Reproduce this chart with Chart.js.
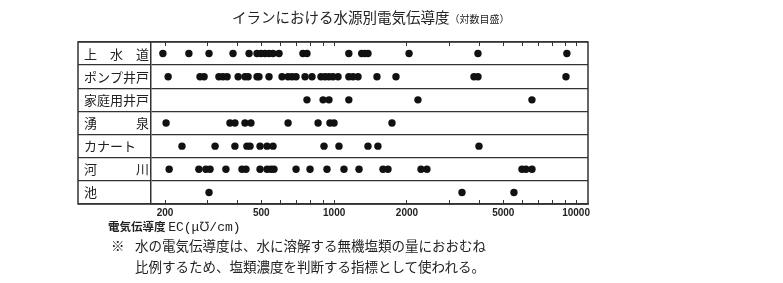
<!DOCTYPE html>
<html>
<head>
<meta charset="utf-8">
<script src="https://cdn.jsdelivr.net/npm/chart.js@4"></script>
<style>
  body { margin: 0; background: #fff; }
  #wrap { position: relative; width: 783px; height: 283px; }
  #ecChart { position: absolute; left: 0; top: 0; }
  .txt { position: absolute; white-space: nowrap; font-family: "Noto Sans CJK JP", sans-serif; color: #222; line-height: 1; }
</style>
</head>
<body>
<div id="wrap">
  <canvas id="ecChart" width="783" height="283"></canvas>
  <div class="txt" style="left:232px; top:10px; font-size:14.5px;">イランにおける水源別電気伝導度<span style="font-size:10px;">（対数目盛）</span></div>
  <div class="txt" style="left:108px; top:221px; font-size:11.5px; font-weight:bold;">電気伝導度 <span style="font-family:'Liberation Mono', monospace; font-weight:normal; font-size:13px;">EC(μ℧/cm)</span></div>
  <div class="txt" style="left:111px; top:239px; font-size:13.5px;">※</div>
  <div class="txt" style="left:135px; top:239px; font-size:13.5px;">水の電気伝導度は、水に溶解する無機塩類の量におおむね</div>
  <div class="txt" style="left:135px; top:260px; font-size:13.5px;">比例するため、塩類濃度を判断する指標として使われる。</div>
</div>
<script>
// 水源の種類（上から順に）
var categories = ['上　水　道', 'ポンプ井戸', '家庭用井戸', '湧　　　泉', 'カナート', '河　　　川', '池'];

// 電気伝導度 EC (μ℧/cm) - 図から読み取った値
var josuido = [196, 251, 304, 382, 445, 480, 499, 518, 538, 559, 592, 743, 772, 1150, 1300, 1340, 1380, 2040, 3930, 9160];
var pumpWell = [206, 279, 290, 334, 347, 361, 401, 428, 441, 480, 489, 538, 609, 645, 670, 696, 758, 810, 882, 917, 952, 989, 1038, 1150, 1197, 1255, 1503, 1801, 3784, 3930, 9080];
var homeWell = [772, 900, 952, 1150, 2220, 6570];
var spring = [202, 371, 389, 428, 453, 645, 858, 961, 999, 1734];
var qanat = [235, 322, 389, 436, 449, 494, 528, 559, 908, 1047, 1380, 1517, 3968];
var river = [208, 276, 295, 307, 357, 416, 432, 494, 528, 548, 564, 696, 795, 934, 1098, 1267, 1592, 1669, 2286, 2418, 5974, 6204, 6572];
var pond = [304, 3376, 5536];

// 目盛り
var tickValues = [200, 300, 400, 500, 600, 700, 800, 900, 1000, 2000, 3000, 4000, 5000, 6000, 7000, 8000, 9000, 10000];
var tickLabels = [200, 500, 1000, 2000, 5000, 10000];

var seriesList = [josuido, pumpWell, homeWell, spring, qanat, river, pond];

var datasets = seriesList.map(function (vals, i) {
    return {
        label: categories[i],
        data: vals.map(function (v) { return { x: v, y: categories[i] }; }),
        backgroundColor: '#111',
        borderWidth: 0,
        pointRadius: 3.7,
        pointHoverRadius: 3.7
    };
});

function setTicks(scale) {
    scale.ticks = tickValues.map(function (v) { return { value: v }; });
}

// 外枠（ラベル欄を含む）
var framePlugin = {
    id: 'frame',
    afterDraw: function (chart) {
        var ctx = chart.ctx, area = chart.chartArea, y = chart.scales.y;
        var left = y.right - y.options.grid.tickLength;
        ctx.save();
        ctx.strokeStyle = '#333';
        ctx.lineWidth = 1.5;
        ctx.strokeRect(left, area.top, area.right - left, area.bottom - area.top);
        ctx.restore();
    }
};

var ctx = document.getElementById('ecChart').getContext('2d');
new Chart(ctx, {
    type: 'scatter',
    data: { datasets: datasets },
    options: {
        responsive: false,
        animation: false,
        layout: { padding: { left: 84, right: 195, top: 42, bottom: 59 } },
        plugins: { legend: { display: false }, tooltip: { enabled: false } },
        scales: {
            x: {
                type: 'logarithmic',
                position: 'bottom',
                min: 175,
                max: 11200,
                afterBuildTicks: setTicks,
                afterFit: function (s) { s.height = 20; },
                grid: { drawOnChartArea: false, drawTicks: true, tickLength: -4, color: '#333', lineWidth: 1 },
                border: { display: true, color: '#333', width: 1.5 },
                ticks: {
                    autoSkip: false,
                    maxRotation: 0,
                    padding: 7,
                    color: '#222',
                    font: { family: 'Liberation Sans', size: 10, weight: 'bold' },
                    callback: function (value) {
                        return tickLabels.indexOf(value) >= 0 ? String(value) : '';
                    }
                }
            },
            x2: {
                type: 'logarithmic',
                position: 'top',
                min: 175,
                max: 11200,
                afterBuildTicks: setTicks,
                afterFit: function (s) { s.height = 0; },
                grid: { drawOnChartArea: false, drawTicks: true, tickLength: -4, color: '#333', lineWidth: 1 },
                border: { display: false },
                ticks: { display: false }
            },
            y: {
                type: 'category',
                labels: categories,
                offset: true,
                afterFit: function (s) { s.width = 67; },
                grid: { offset: true, color: '#333', lineWidth: 1.3, tickLength: 73, drawTicks: true },
                border: { display: true, color: '#333', width: 1.5 },
                ticks: {
                    crossAlign: 'far',
                    color: '#222',
                    font: { family: 'Noto Sans CJK JP', size: 13 }
                }
            }
        }
    },
    plugins: [framePlugin]
});
</script>
</body>
</html>
